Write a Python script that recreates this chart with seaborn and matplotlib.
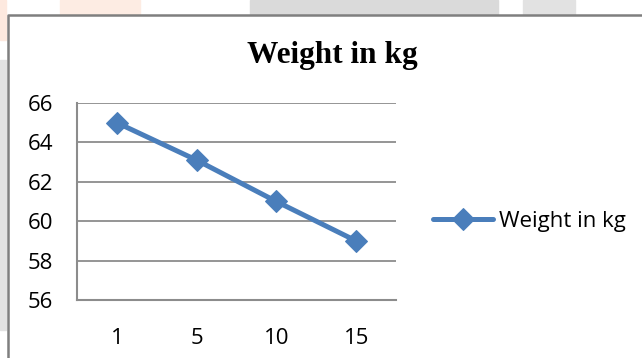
import matplotlib
matplotlib.use("Agg")
import matplotlib.pyplot as plt
import matplotlib.patches as mpatches
import matplotlib.lines as mlines
import numpy as np
import pandas as pd
import seaborn as sns

# chart data
days = ["1", "5", "10", "15"]
weight = [65, 63.1, 61, 59]
series_name = "Weight in kg"
y_ticks = [56, 58, 60, 62, 64, 66]

df = pd.DataFrame({"day": days, "weight": weight})
df["pos"] = np.arange(len(days))

sns.set_style("white")
plt.rcParams["font.family"] = ["Open Sans", "DejaVu Sans"]

W, H = 642, 358
fig = plt.figure(figsize=(W / 100, H / 100), dpi=100)
fig.patch.set_facecolor("white")

# faint background pieces outside the chart box
for x0, y0, w, h, c in [(250, 0, 248, 14, "#dadada"), (523, 0, 52, 14, "#e2e2e2"),
                        (60, 0, 80, 14, "#fdece3"), (0, 60, 6, 270, "#e2e2e2"),
                        (0, 0, 6, 40, "#fde9df")]:
    fig.patches.append(mpatches.Rectangle((x0 / W, 1 - (y0 + h) / H), w / W, h / H,
                                          transform=fig.transFigure, color=c, zorder=0))

# chart border (left and top edges, the rest is cut off)
fig.lines.append(mlines.Line2D([8 / W, 8 / W, 1.0], [0.0, 1 - 14.5 / H, 1 - 14.5 / H],
                               transform=fig.transFigure, color="#7f7f7f", linewidth=1.8,
                               zorder=5))

ax = fig.add_axes([77 / W, 1 - 300 / H, (396 - 77) / W, (300 - 103) / H])
ax.set_facecolor("none")

sns.lineplot(data=df, x="pos", y="weight", ax=ax, color="#4a7ebb", linewidth=3.6,
             marker="D", markersize=11, markeredgecolor="#4a7ebb", label=series_name)

ax.set_xlim(-0.5, len(days) - 0.5)
ax.set_ylim(56, 66)
ax.set_yticks(y_ticks)
ax.set_xticks(df["pos"])
ax.set_xticklabels(days)
ax.set_xticks(np.arange(-0.5, len(days)), minor=True)
ax.tick_params(axis="x", which="major", length=0, labelsize=16, pad=20)
ax.tick_params(axis="x", which="minor", length=7, width=1.5, color="#8c8c8c", direction="out")
ax.tick_params(axis="y", length=7, width=1.5, color="#8c8c8c", labelsize=16, pad=10)
for lab in ax.get_yticklabels() + ax.get_xticklabels():
    lab.set_color("black")
ax.grid(axis="y", color="#8c8c8c", linewidth=1.3)
ax.set_axisbelow(True)
for s in ["top", "right"]:
    ax.spines[s].set_visible(False)
for s in ["left", "bottom"]:
    ax.spines[s].set_color("#8c8c8c")
    ax.spines[s].set_linewidth(1.5)
ax.set_xlabel("")
ax.set_ylabel("")

fig.text(332 / W, 1 - 55 / H, series_name, ha="center", va="center", color="black",
         fontsize=22.5, fontweight="bold", family="Liberation Serif")

leg = ax.legend(loc="center left", bbox_to_anchor=(433 / W, 1 - 221 / H),
                bbox_transform=fig.transFigure, frameon=False, fontsize=16,
                handlelength=2.7, handletextpad=0.25, borderaxespad=0, borderpad=0)
for t in leg.get_texts():
    t.set_color("black")

fig.savefig("out.png", dpi=100)
